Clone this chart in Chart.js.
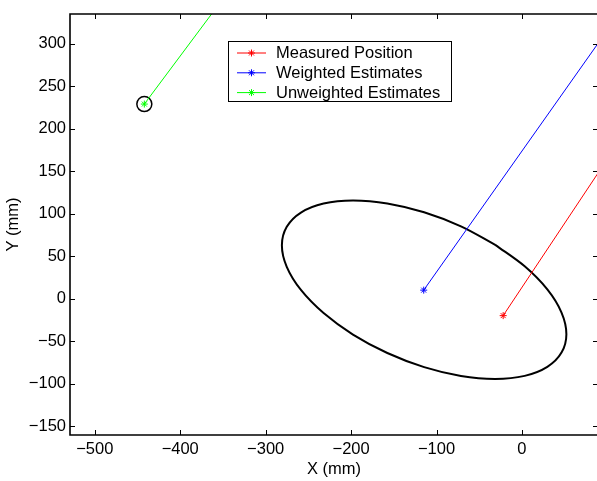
<!DOCTYPE html>
<html>
<head>
<meta charset="utf-8">
<title>Position estimates</title>
<script src="https://cdn.jsdelivr.net/npm/chart.js@4.4.1/dist/chart.umd.min.js"></script>
<style>
  html, body { margin: 0; padding: 0; background: #fff; overflow: hidden; }
  #chart { display: block; }
</style>
</head>
<body>
<canvas id="chart" width="600" height="481"></canvas>
<script>
// Axis limits and tick labels
const xLimits = [-529, 89];
const yLimits = [-160.5, 335];
const xTicks = [-500, -400, -300, -200, -100, 0];
const yTicks = [-150, -100, -50, 0, 50, 100, 150, 200, 250, 300];

// Each track: start point, then a point further along its heading (outside the axes)
const measuredX = [-22, 256];
const measuredY = [-20, 400];
const weightedX = [-115, 159];
const weightedY = [10, 400];
const unweightedX = [-442, -315];
const unweightedY = [229, 400];

// Error ellipse round the weighted estimate (closed: last = first)
const ellipseX = [-31.3, -71.4, -114.5, -157.6, -197.8, -232.2, -258.7, -275.3, -281, -275.3, -258.7, -232.2,
  -197.8, -157.6, -114.5, -71.4, -31.3, 3.2, 29.7, 46.3, 52, 46.3, 29.7, 3.2, -31.3];
const ellipseY = [63.3, 85, 101.6, 112, 115.5, 111.9, 101.3, 84.5, 62.8, 37.4, 10.2, -17,
  -42.3, -64, -80.6, -91, -94.5, -90.9, -80.3, -63.5, -41.8, -16.4, 10.8, 38, 63.3];

const FONT = "'Liberation Sans', Arial, Helvetica, sans-serif";
const FONT_SIZE = 16.5;

function toPoints(xs, ys) {
  return xs.map((x, i) => ({ x: x, y: ys[i] }));
}

function fmtTick(v) {
  return v < 0 ? '\u2212' + Math.abs(v) : String(v);
}

function track(label, xs, ys, color) {
  return {
    label: label,
    inLegend: true,
    data: toPoints(xs, ys),
    showLine: true,
    borderColor: color,
    backgroundColor: color,
    borderWidth: 1,
    pointStyle: 'star',
    pointBorderColor: color,
    pointBorderWidth: 1,
    pointRadius: ctx => ctx.dataIndex === 0 ? 3.5 : 0,
    clip: 0
  };
}

// axes box with inward ticks on all four sides
const framePlugin = {
  id: 'frame',
  afterDatasetsDraw(chart) {
    const { ctx, chartArea: a, scales } = chart;
    ctx.save();
    ctx.strokeStyle = '#000';
    ctx.lineWidth = 1;
    ctx.beginPath();
    xTicks.forEach(v => {
      const px = Math.round(scales.x.getPixelForValue(v)) + 0.5;
      ctx.moveTo(px, a.bottom); ctx.lineTo(px, a.bottom - 5);
      ctx.moveTo(px, a.top); ctx.lineTo(px, a.top + 5);
    });
    yTicks.forEach(v => {
      const py = Math.round(scales.y.getPixelForValue(v)) + 0.5;
      ctx.moveTo(a.left, py); ctx.lineTo(a.left + 5, py);
      ctx.moveTo(a.right, py); ctx.lineTo(a.right - 5, py);
    });
    ctx.stroke();
    ctx.lineWidth = 1.6;
    ctx.beginPath();
    ctx.moveTo(a.right, a.top);
    ctx.lineTo(a.left, a.top);
    ctx.lineTo(a.left, a.bottom);
    ctx.lineTo(a.right, a.bottom);
    ctx.stroke();
    ctx.restore();
  }
};

// boxed legend inside the axes, top middle
const legendPlugin = {
  id: 'boxLegend',
  afterDraw(chart) {
    const ctx = chart.ctx;
    const items = chart.data.datasets.filter(d => d.inLegend);
    const box = { left: 228.5, top: 41.5, width: 223, height: 60 };
    ctx.save();
    ctx.fillStyle = '#fff';
    ctx.fillRect(box.left, box.top, box.width, box.height);
    ctx.strokeStyle = '#000';
    ctx.lineWidth = 1;
    ctx.strokeRect(box.left, box.top, box.width, box.height);
    ctx.font = FONT_SIZE + 'px ' + FONT;
    ctx.textBaseline = 'middle';
    ctx.textAlign = 'left';
    items.forEach((d, i) => {
      const y = box.top + 11.5 + i * 19.8;
      ctx.strokeStyle = d.borderColor;
      ctx.lineWidth = 1;
      ctx.beginPath();
      ctx.moveTo(box.left + 8.5, y);
      ctx.lineTo(box.left + 37.5, y);
      ctx.stroke();
      Chart.helpers.drawPoint(ctx, { pointStyle: 'star', radius: 3.5, borderWidth: 1, rotation: 0 },
        box.left + 23, y);
      ctx.fillStyle = '#000';
      ctx.fillText(d.label, box.left + 47.5, y + 0.5);
    });
    ctx.restore();
  }
};

new Chart(document.getElementById('chart'), {
  type: 'scatter',
  data: {
    datasets: [
      track('Measured Position', measuredX, measuredY, '#ff0000'),
      track('Weighted Estimates', weightedX, weightedY, '#0000ff'),
      track('Unweighted Estimates', unweightedX, unweightedY, '#00ff00'),
      {
        label: 'ellipse',
        data: toPoints(ellipseX, ellipseY),
        showLine: true,
        borderColor: '#000',
        borderWidth: 2,
        tension: 0.34,
        pointRadius: 0,
        clip: 0
      },
      {
        label: 'circle',
        data: toPoints(unweightedX.slice(0, 1), unweightedY.slice(0, 1)),
        showLine: false,
        pointStyle: 'circle',
        pointRadius: 7.5,
        pointBackgroundColor: 'rgba(0,0,0,0)',
        pointBorderColor: '#000',
        pointBorderWidth: 1.5
      }
    ]
  },
  options: {
    responsive: false,
    animation: false,
    events: [],
    layout: { autoPadding: false, padding: { left: 0, top: 14, right: 2, bottom: 0 } },
    plugins: {
      legend: { display: false },
      tooltip: { enabled: false }
    },
    scales: {
      x: {
        type: 'linear',
        min: xLimits[0],
        max: xLimits[1],
        grid: { display: false, drawTicks: false },
        border: { display: false },
        afterBuildTicks: s => { s.ticks = xTicks.map(v => ({ value: v })); },
        afterFit: s => { s.height = 46; s.paddingLeft = 0; s.paddingRight = 0; },
        ticks: {
          color: '#000',
          padding: 5,
          maxRotation: 0,
          font: { family: FONT, size: FONT_SIZE },
          callback: fmtTick
        },
        title: {
          display: true,
          text: 'X (mm)',
          color: '#000',
          font: { family: FONT, size: FONT_SIZE },
          padding: { top: 0, bottom: 1.4 }
        }
      },
      y: {
        type: 'linear',
        min: yLimits[0],
        max: yLimits[1],
        grid: { display: false, drawTicks: false },
        border: { display: false },
        afterBuildTicks: s => { s.ticks = yTicks.map(v => ({ value: v })); },
        afterFit: s => { s.width = 70; s.paddingTop = 0; s.paddingBottom = 0; },
        ticks: {
          color: '#000',
          padding: 4,
          font: { family: FONT, size: FONT_SIZE },
          callback: fmtTick
        },
        title: {
          display: true,
          text: 'Y (mm)',
          color: '#000',
          font: { family: FONT, size: FONT_SIZE },
          padding: { top: 4, bottom: 0 }
        }
      }
    }
  },
  plugins: [framePlugin, legendPlugin]
});
</script>
</body>
</html>
